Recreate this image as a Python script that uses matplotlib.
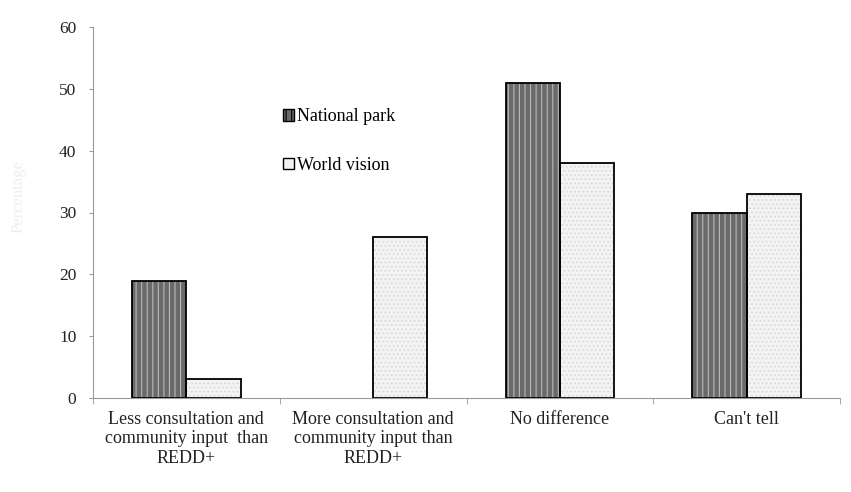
import numpy as np
import matplotlib.pyplot as plt
from matplotlib.patches import Patch

categories = ['Less consultation and\ncommunity input  than\nREDD+',
              'More consultation and\ncommunity input than\nREDD+',
              'No difference',
              "Can't tell"]
national_park = [19, 0, 51, 30]
world_vision = [3, 26, 38, 33]

plt.rcParams['font.family'] = ['Liberation Serif', 'DejaVu Serif']
plt.rcParams['hatch.linewidth'] = 0.8

fig = plt.figure(figsize=(8.51, 4.92), dpi=100)
ax = fig.add_axes([93 / 851, 1 - 398 / 492, 747 / 851, 371 / 492])

x = np.arange(len(categories))
w = 0.29
np_vals = np.array(national_park)
wv_vals = np.array(world_vision)

# filled bars with the light stripes / dots, then black outlines on top
ax.bar(x - w / 2, np_vals, w, color='#6a6a6a', edgecolor='#b8b8b8',
       hatch='|||', linewidth=0)
ax.bar(x + w / 2, wv_vals, w, color='#f3f3f3', edgecolor='#dadada',
       hatch='....', linewidth=0)
nz = np_vals > 0
ax.bar((x - w / 2)[nz], np_vals[nz], w, fill=False, edgecolor='black', linewidth=1.3)
nz = wv_vals > 0
ax.bar((x + w / 2)[nz], wv_vals[nz], w, fill=False, edgecolor='black', linewidth=1.3)

ax.set_xlim(-0.5, 3.5)
ax.set_ylim(0, 60)
ax.set_yticks(range(0, 61, 10))
ax.set_xticks(x)
ax.set_xticklabels(categories, fontsize=13, color='#222222', linespacing=1.2)
ax.set_xticks(np.arange(-0.5, 4, 1), minor=True)
ax.tick_params(axis='x', which='major', length=0, pad=9)
ax.tick_params(axis='x', which='minor', length=4, color='#999999')
ax.tick_params(axis='y', labelsize=12.5, labelcolor='#222222', color='#999999',
               length=3, pad=9)

for s in ['top', 'right']:
    ax.spines[s].set_visible(False)
for s in ['left', 'bottom']:
    ax.spines[s].set_color('#999999')

handles = [Patch(facecolor='#6a6a6a', edgecolor='black', hatch='|||', label='National park'),
           Patch(facecolor='#f3f3f3', edgecolor='black', label='World vision')]
ax.legend(handles=handles, loc='upper left', bbox_to_anchor=(0.245, 0.80),
          frameon=False, fontsize=13, handlelength=0.6, handleheight=0.6,
          handletextpad=0.15, labelspacing=1.75, borderaxespad=0)

fig.text(0.012, 0.6, 'Percentage', rotation=90, color='#eeeeee',
         fontsize=12, va='center')

fig.savefig('out.png', dpi=100)
